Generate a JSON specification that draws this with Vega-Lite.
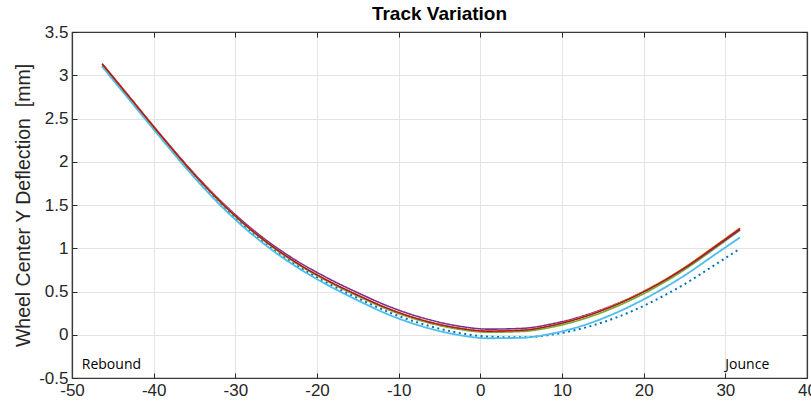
{
  "$schema": "https://vega.github.io/schema/vega-lite/v6.json",
  "width": 735,
  "height": 346,
  "autosize": {"type": "none"},
  "padding": {"left": 72, "top": 32, "right": 4, "bottom": 34},
  "background": "white",
  "title": {
    "text": "Track Variation",
    "font": "Liberation Sans",
    "fontSize": 19,
    "fontWeight": "bold",
    "color": "#000000",
    "anchor": "middle",
    "baseline": "alphabetic",
    "offset": -16
  },
  "config": {
    "view": {"stroke": "#3a3a3a", "strokeWidth": 1.2},
    "axis": {
      "labelFont": "Liberation Sans",
      "labelFontSize": 17,
      "labelColor": "#262626",
      "titleFont": "Liberation Sans",
      "titleFontSize": 19.5,
      "titleFontWeight": "normal",
      "titleColor": "#262626",
      "domain": true,
      "domainColor": "#3a3a3a",
      "domainWidth": 1.2,
      "ticks": true,
      "tickColor": "#262626",
      "tickWidth": 1,
      "tickSize": -5,
      "labelPadding": 9,
      "gridColor": "#e3e3e3",
      "gridWidth": 1
    }
  },
  "datasets": {
    "curves": [
      {"s": "A", "x": -46.3, "y": 3.11}, {"s": "A", "x": -43, "y": 2.73}, {"s": "A", "x": -39, "y": 2.27}, {"s": "A", "x": -35, "y": 1.83}, {"s": "A", "x": -31, "y": 1.438}, {"s": "A", "x": -27, "y": 1.106}, {"s": "A", "x": -23, "y": 0.834}, {"s": "A", "x": -19, "y": 0.612}, {"s": "A", "x": -15, "y": 0.423}, {"s": "A", "x": -11, "y": 0.253}, {"s": "A", "x": -7, "y": 0.122}, {"s": "A", "x": -3, "y": 0.028}, {"s": "A", "x": 1, "y": -0.022}, {"s": "A", "x": 5, "y": -0.03}, {"s": "A", "x": 9, "y": 0.005}, {"s": "A", "x": 13, "y": 0.087}, {"s": "A", "x": 17, "y": 0.212}, {"s": "A", "x": 21, "y": 0.38}, {"s": "A", "x": 25, "y": 0.585}, {"s": "A", "x": 29, "y": 0.825}, {"s": "A", "x": 31.8, "y": 0.995},
      {"s": "B", "x": -46.3, "y": 3.1}, {"s": "B", "x": -43, "y": 2.72}, {"s": "B", "x": -39, "y": 2.26}, {"s": "B", "x": -35, "y": 1.815}, {"s": "B", "x": -31, "y": 1.42}, {"s": "B", "x": -27, "y": 1.088}, {"s": "B", "x": -23, "y": 0.815}, {"s": "B", "x": -19, "y": 0.59}, {"s": "B", "x": -15, "y": 0.397}, {"s": "B", "x": -11, "y": 0.224}, {"s": "B", "x": -7, "y": 0.093}, {"s": "B", "x": -3, "y": 0.003}, {"s": "B", "x": 1, "y": -0.04}, {"s": "B", "x": 5, "y": -0.035}, {"s": "B", "x": 9, "y": 0.018}, {"s": "B", "x": 13, "y": 0.12}, {"s": "B", "x": 17, "y": 0.27}, {"s": "B", "x": 21, "y": 0.46}, {"s": "B", "x": 25, "y": 0.685}, {"s": "B", "x": 29, "y": 0.945}, {"s": "B", "x": 31.8, "y": 1.125},
      {"s": "C", "x": -46.3, "y": 3.13}, {"s": "C", "x": -43, "y": 2.75}, {"s": "C", "x": -39, "y": 2.288}, {"s": "C", "x": -35, "y": 1.847}, {"s": "C", "x": -31, "y": 1.456}, {"s": "C", "x": -27, "y": 1.125}, {"s": "C", "x": -23, "y": 0.854}, {"s": "C", "x": -19, "y": 0.633}, {"s": "C", "x": -15, "y": 0.447}, {"s": "C", "x": -11, "y": 0.281}, {"s": "C", "x": -7, "y": 0.155}, {"s": "C", "x": -3, "y": 0.07}, {"s": "C", "x": 1, "y": 0.03}, {"s": "C", "x": 5, "y": 0.038}, {"s": "C", "x": 9, "y": 0.093}, {"s": "C", "x": 13, "y": 0.195}, {"s": "C", "x": 17, "y": 0.34}, {"s": "C", "x": 21, "y": 0.525}, {"s": "C", "x": 25, "y": 0.752}, {"s": "C", "x": 29, "y": 1.018}, {"s": "C", "x": 31.8, "y": 1.21},
      {"s": "D", "x": -46.3, "y": 3.13}, {"s": "D", "x": -43, "y": 2.753}, {"s": "D", "x": -39, "y": 2.296}, {"s": "D", "x": -35, "y": 1.86}, {"s": "D", "x": -31, "y": 1.475}, {"s": "D", "x": -27, "y": 1.15}, {"s": "D", "x": -23, "y": 0.885}, {"s": "D", "x": -19, "y": 0.67}, {"s": "D", "x": -15, "y": 0.485}, {"s": "D", "x": -11, "y": 0.32}, {"s": "D", "x": -7, "y": 0.193}, {"s": "D", "x": -3, "y": 0.106}, {"s": "D", "x": 1, "y": 0.065}, {"s": "D", "x": 5, "y": 0.073}, {"s": "D", "x": 9, "y": 0.13}, {"s": "D", "x": 13, "y": 0.23}, {"s": "D", "x": 17, "y": 0.37}, {"s": "D", "x": 21, "y": 0.55}, {"s": "D", "x": 25, "y": 0.77}, {"s": "D", "x": 29, "y": 1.03}, {"s": "D", "x": 31.8, "y": 1.215},
      {"s": "E", "x": -46.3, "y": 3.13}, {"s": "E", "x": -43, "y": 2.75}, {"s": "E", "x": -39, "y": 2.29}, {"s": "E", "x": -35, "y": 1.85}, {"s": "E", "x": -31, "y": 1.46}, {"s": "E", "x": -27, "y": 1.13}, {"s": "E", "x": -23, "y": 0.86}, {"s": "E", "x": -19, "y": 0.64}, {"s": "E", "x": -15, "y": 0.455}, {"s": "E", "x": -11, "y": 0.29}, {"s": "E", "x": -7, "y": 0.165}, {"s": "E", "x": -3, "y": 0.08}, {"s": "E", "x": 1, "y": 0.04}, {"s": "E", "x": 5, "y": 0.052}, {"s": "E", "x": 9, "y": 0.113}, {"s": "E", "x": 13, "y": 0.22}, {"s": "E", "x": 17, "y": 0.366}, {"s": "E", "x": 21, "y": 0.552}, {"s": "E", "x": 25, "y": 0.778}, {"s": "E", "x": 29, "y": 1.044}, {"s": "E", "x": 31.8, "y": 1.235},
      {"s": "F", "x": -46.3, "y": 3.135}, {"s": "F", "x": -43, "y": 2.755}, {"s": "F", "x": -39, "y": 2.295}, {"s": "F", "x": -35, "y": 1.855}, {"s": "F", "x": -31, "y": 1.465}, {"s": "F", "x": -27, "y": 1.135}, {"s": "F", "x": -23, "y": 0.865}, {"s": "F", "x": -19, "y": 0.645}, {"s": "F", "x": -15, "y": 0.46}, {"s": "F", "x": -11, "y": 0.295}, {"s": "F", "x": -7, "y": 0.17}, {"s": "F", "x": -3, "y": 0.085}, {"s": "F", "x": 1, "y": 0.045}, {"s": "F", "x": 5, "y": 0.055}, {"s": "F", "x": 9, "y": 0.115}, {"s": "F", "x": 13, "y": 0.22}, {"s": "F", "x": 17, "y": 0.365}, {"s": "F", "x": 21, "y": 0.55}, {"s": "F", "x": 25, "y": 0.777}, {"s": "F", "x": 29, "y": 1.043}, {"s": "F", "x": 31.8, "y": 1.233},
      {"s": "G", "x": -46.3, "y": 3.13}, {"s": "G", "x": -43, "y": 2.75}, {"s": "G", "x": -39, "y": 2.29}, {"s": "G", "x": -35, "y": 1.85}, {"s": "G", "x": -31, "y": 1.46}, {"s": "G", "x": -27, "y": 1.13}, {"s": "G", "x": -23, "y": 0.86}, {"s": "G", "x": -19, "y": 0.64}, {"s": "G", "x": -15, "y": 0.455}, {"s": "G", "x": -11, "y": 0.29}, {"s": "G", "x": -7, "y": 0.165}, {"s": "G", "x": -3, "y": 0.08}, {"s": "G", "x": 1, "y": 0.04}, {"s": "G", "x": 5, "y": 0.05}, {"s": "G", "x": 9, "y": 0.11}, {"s": "G", "x": 13, "y": 0.215}, {"s": "G", "x": 17, "y": 0.36}, {"s": "G", "x": 21, "y": 0.545}, {"s": "G", "x": 25, "y": 0.77}, {"s": "G", "x": 29, "y": 1.035}, {"s": "G", "x": 31.8, "y": 1.225}
    ],
    "notes": [
      {"x": -48.8, "y": -0.4, "label": "Rebound"},
      {"x": 30, "y": -0.4, "label": "Jounce"}
    ]
  },
  "layer": [
    {
      "data": {"name": "curves"},
      "mark": {"type": "line", "interpolate": "monotone", "clip": true},
      "encoding": {
        "x": {
          "field": "x", "type": "quantitative",
          "scale": {"domain": [-50, 40], "nice": false, "zero": false},
          "axis": {
            "orient": "bottom", "title": null, "grid": true,
            "values": [-50, -40, -30, -20, -10, 0, 10, 20, 30, 40],
            "labelExpr": "'' + datum.value", "labelFlush": false, "labelOverlap": false
          }
        },
        "y": {
          "field": "y", "type": "quantitative",
          "scale": {"domain": [-0.5, 3.5], "nice": false, "zero": false},
          "axis": {
            "orient": "left", "title": "Wheel Center Y Deflection\u00a0 [mm]", "grid": true,
            "values": [-0.5, 0, 0.5, 1, 1.5, 2, 2.5, 3, 3.5],
            "labelExpr": "'' + datum.value", "labelFlush": false, "labelOverlap": false,
            "titlePadding": 5
          }
        },
        "color": {
          "field": "s", "type": "nominal", "legend": null,
          "scale": {
            "domain": ["A", "B", "C", "D", "E", "F", "G"],
            "range": ["#0072BD", "#4DBEEE", "#77AC30", "#7E2F8E", "#EDB120", "#D95319", "#A2142F"]
          }
        },
        "strokeDash": {
          "field": "s", "type": "nominal", "legend": null,
          "scale": {
            "domain": ["A", "B", "C", "D", "E", "F", "G"],
            "range": [[2, 3.5], [1, 0], [1, 0], [1, 0], [1, 0], [1, 0], [1, 0]]
          }
        },
        "strokeWidth": {
          "field": "s", "type": "nominal", "legend": null,
          "scale": {
            "domain": ["A", "B", "C", "D", "E", "F", "G"],
            "range": [2, 1.2, 1.2, 1.2, 1.2, 1.2, 1.2]
          }
        }
      }
    },
    {
      "data": {"name": "notes"},
      "mark": {"type": "text", "align": "left", "baseline": "alphabetic", "font": "Open Sans", "fontSize": 14, "color": "#000000"},
      "encoding": {
        "x": {
          "field": "x", "type": "quantitative",
          "axis": {"orient": "top", "title": null, "grid": false, "labels": false, "values": [-50, -40, -30, -20, -10, 0, 10, 20, 30, 40]}
        },
        "y": {
          "field": "y", "type": "quantitative",
          "axis": {"orient": "right", "title": null, "grid": false, "labels": false, "values": [-0.5, 0, 0.5, 1, 1.5, 2, 2.5, 3, 3.5]}
        },
        "text": {"field": "label"}
      }
    }
  ],
  "resolve": {"axis": {"x": "independent", "y": "independent"}}
}
